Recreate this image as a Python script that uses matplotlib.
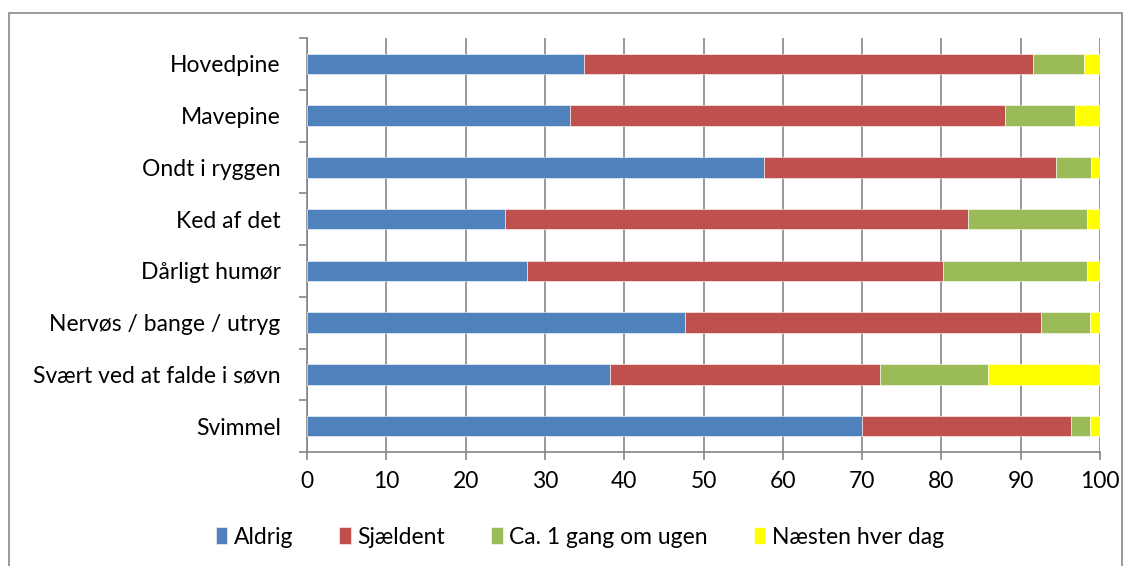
import numpy as np
import matplotlib
matplotlib.use('Agg')
from matplotlib import pyplot as plt
from matplotlib.patches import Rectangle

plt.rcParams['font.family'] = ['Lato', 'DejaVu Sans']

categories = ['Hovedpine', 'Mavepine', 'Ondt i ryggen', 'Ked af det',
              'Dårligt humør', 'Nervøs / bange / utryg',
              'Svært ved at falde i søvn', 'Svimmel']
series = ['Aldrig', 'Sjældent', 'Ca. 1 gang om ugen', 'Næsten hver dag']
aldrig = [34.9, 33.2, 57.6, 25.0, 27.8, 47.7, 38.2, 70.0]
sjaeldent = [56.6, 54.8, 36.8, 58.4, 52.4, 44.8, 34.0, 26.4]
ugen = [6.5, 8.8, 4.5, 15.0, 18.1, 6.2, 13.7, 2.3]
dag = [2.0, 3.2, 1.1, 1.6, 1.7, 1.3, 14.1, 1.3]
colors = ['#4F81BD', '#C0504D', '#9BBB59', '#FFFF00']

fig = plt.figure(figsize=(11.32, 5.66), dpi=100)
ax = fig.add_axes([307 / 1132, 1 - 452 / 566, 793 / 1132, 414 / 566])

# ramme om hele diagrammet
fig.patches.append(Rectangle((9 / 1132, -0.01), 1113 / 1132, 1 - 13 / 566 + 0.01,
                             transform=fig.transFigure, fill=False,
                             edgecolor='#888888', linewidth=1.2))

y = np.arange(len(categories))
left = np.zeros(len(categories))
for vals, name, col in zip([aldrig, sjaeldent, ugen, dag], series, colors):
    ax.barh(y, vals, left=left, height=0.4, color=col, label=name,
            edgecolor='white', linewidth=0.4, zorder=3)
    left += np.array(vals)

ax.set_ylim(len(categories) - 0.5, -0.5)
ax.set_xlim(0, 100)
ax.set_xticks(np.arange(0, 101, 10))
ax.set_yticks(y)
ax.set_yticklabels(categories, fontsize=16.5)
ax.set_yticks(np.arange(-0.5, len(categories), 1), minor=True)
ax.tick_params(axis='y', which='major', length=0, pad=19)
ax.tick_params(axis='y', which='minor', length=6, color='#868686', width=1.2)
ax.tick_params(axis='x', length=6, color='#868686', width=1.2, labelsize=16.5, pad=8)
ax.grid(axis='x', color='#868686', linewidth=1.2, zorder=0)
for s in ['top', 'right']:
    ax.spines[s].set_visible(False)
for s in ['left', 'bottom']:
    ax.spines[s].set_color('#868686')
    ax.spines[s].set_linewidth(1.2)

ax.legend(loc='center', bbox_to_anchor=(580 / 1132, 1 - 537 / 566),
          bbox_transform=fig.transFigure, ncol=4, frameon=False, fontsize=16.5,
          handlelength=0.5, handleheight=0.8, handletextpad=0.3, columnspacing=2.0)

fig.savefig('out.png', dpi=100)
